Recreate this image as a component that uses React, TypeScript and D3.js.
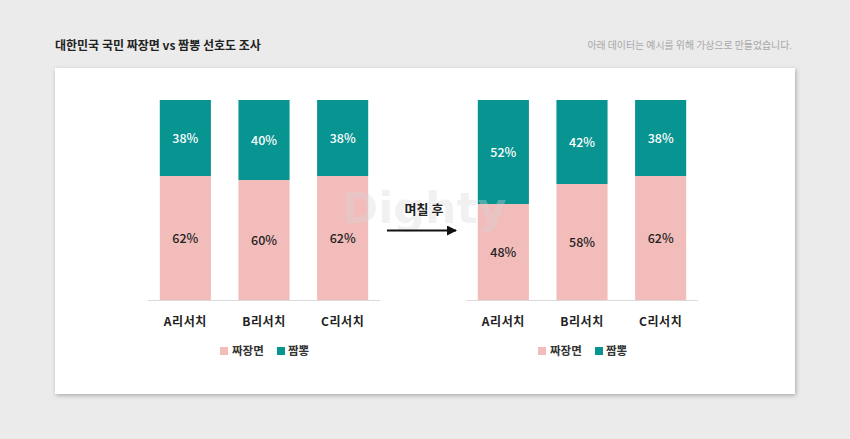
import React from 'react';
import * as d3 from 'd3';

const categories = ['A리서치', 'B리서치', 'C리서치'];
const seriesNames = ['짜장면', '짬뽕'];
const beforeJjajang = [62, 60, 62];
const beforeJjamppong = [38, 40, 38];
const afterJjajang = [48, 58, 62];
const afterJjamppong = [52, 42, 38];

const W = 850;
const H = 439;
const PINK = '#f2bcba';
const TEAL = '#089491';
const FONT = '"Noto Sans CJK KR", "Noto Sans", sans-serif';

const color = d3.scaleOrdinal<string, string>().domain(seriesNames).range([PINK, TEAL]);
const y = d3.scaleLinear().domain([0, 100]).range([300, 100]);

interface Row {
  cat: string;
  [key: string]: string | number;
}

function makeRows(a: number[], b: number[]): Row[] {
  return categories.map((c, i) => ({ cat: c, [seriesNames[0]]: a[i], [seriesNames[1]]: b[i] }));
}

const Panel: React.FC<{ rows: Row[]; x0: number; x1: number }> = ({ rows, x0, x1 }) => {
  const x = d3.scaleBand().domain(categories).range([x0, x1]).paddingInner(0.35).paddingOuter(0.15);
  const stacked = d3.stack<Row>().keys(seriesNames).value((d, k) => d[k] as number)(rows);

  // legend roughly centered under the panel
  const legendX = (x0 + x1) / 2 - 44;

  return (
    <g>
      {stacked.map((s) => (
        <g key={s.key} fill={color(s.key)}>
          {s.map((d) => (
            <rect
              key={d.data.cat}
              x={x(d.data.cat)}
              y={y(d[1])}
              width={x.bandwidth()}
              height={y(d[0]) - y(d[1])}
            />
          ))}
        </g>
      ))}
      {stacked.map((s) =>
        s.map((d) => (
          <text
            key={s.key + d.data.cat}
            x={(x(d.data.cat) as number) + x.bandwidth() / 2}
            y={(y(d[0]) + y(d[1])) / 2}
            dy="0.36em"
            textAnchor="middle"
            fontSize={12.5}
            fontWeight={500}
            fill={s.key === seriesNames[1] ? '#fff' : '#222'}
          >
            {`${d[1] - d[0]}%`}
          </text>
        ))
      )}
      <line x1={x0} x2={x1} y1={y(0) + 0.5} y2={y(0) + 0.5} stroke="#dcdcdc" strokeWidth={1} />
      {categories.map((c) => (
        <text
          key={c}
          x={(x(c) as number) + x.bandwidth() / 2}
          y={326}
          textAnchor="middle"
          fontSize={12}
          fontWeight={700}
          fill="#222"
          letterSpacing={0.6}
        >
          {c}
        </text>
      ))}
      <g transform={`translate(${legendX},351)`}>
        <rect x={0} y={-4} width={8} height={8} fill={PINK} />
        <text x={12} y={0} dy="0.36em" fontSize={11.5} fontWeight={700} fill="#333">
          {seriesNames[0]}
        </text>
        <rect x={57} y={-4} width={8} height={8} fill={TEAL} />
        <text x={68} y={0} dy="0.36em" fontSize={11.5} fontWeight={700} fill="#333">
          {seriesNames[1]}
        </text>
      </g>
    </g>
  );
};

const App: React.FC = () => {
  const before = makeRows(beforeJjajang, beforeJjamppong);
  const after = makeRows(afterJjajang, afterJjamppong);

  return (
    <div style={{ position: 'absolute', left: 0, top: 0 }}>
      <svg width={W} height={H} style={{ display: 'block', fontFamily: FONT }}>
        <defs>
          <filter id="cardShadow" x="-5%" y="-5%" width="110%" height="115%">
            <feDropShadow dx={1} dy={1.5} stdDeviation={2} floodColor="#000" floodOpacity={0.28} />
          </filter>
          <marker id="arrowHead" viewBox="0 0 10 10" refX={9} refY={5} markerWidth={5} markerHeight={5} orient="auto">
            <path d="M0,0 L10,5 L0,10 z" fill="#111" />
          </marker>
        </defs>
        <rect width={W} height={H} fill="#ebebeb" />
        <text x={55} y={50} fontSize={12} fontWeight={700} fill="#222">
          대한민국 국민 짜장면 vs 짬뽕 선호도 조사
        </text>
        <text x={792} y={49} textAnchor="end" fontSize={9.9} fill="#a8a8a8">
          아래 데이터는 예시를 위해 가상으로 만들었습니다.
        </text>
        <rect x={55} y={68} width={740} height={326} fill="#fff" filter="url(#cardShadow)" />

        <Panel rows={before} x0={148} x1={380} />
        <Panel rows={after} x0={466} x1={698} />

        {/* faint watermark */}
        <text
          x={424}
          y={223}
          textAnchor="middle"
          fontSize={42}
          fontWeight={700}
          fontFamily='"DejaVu Sans", sans-serif'
          fill="#d8d8d8"
          opacity={0.35}
          textLength={165}
          lengthAdjust="spacingAndGlyphs"
        >
          Dighty
        </text>

        <text x={424} y={214} textAnchor="middle" fontSize={13} fontWeight={600} fill="#222">
          며칠 후
        </text>
        <line x1={387} x2={456} y1={230.5} y2={230.5} stroke="#111" strokeWidth={2} markerEnd="url(#arrowHead)" />
      </svg>
    </div>
  );
};

export default App;
